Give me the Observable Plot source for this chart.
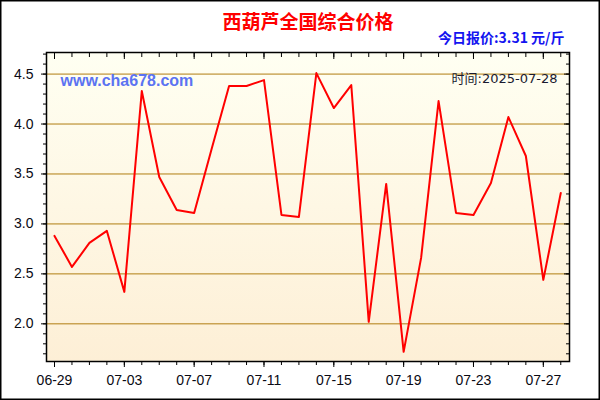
<!DOCTYPE html>
<html>
<head>
<meta charset="utf-8">
<script src="https://cdn.jsdelivr.net/npm/d3@7"></script>
<script src="https://cdn.jsdelivr.net/npm/@observablehq/plot@0.6"></script>
<style>
  html, body { margin: 0; padding: 0; background: white; }
</style>
</head>
<body>
<div id="chart"></div>
<script>
const title = "西葫芦全国综合价格";
const subtitle = "今日报价:3.31 元/斤";
const watermark = "www.cha678.com";
const timeLabel = "时间:2025-07-28";

const dates = [
  "2025-06-29","2025-06-30","2025-07-01","2025-07-02","2025-07-03","2025-07-04",
  "2025-07-05","2025-07-06","2025-07-07","2025-07-08","2025-07-09","2025-07-10",
  "2025-07-11","2025-07-12","2025-07-13","2025-07-14","2025-07-15","2025-07-16",
  "2025-07-17","2025-07-18","2025-07-19","2025-07-20","2025-07-21","2025-07-22",
  "2025-07-23","2025-07-24","2025-07-25","2025-07-26","2025-07-27","2025-07-28"
];
const prices = [
  2.88, 2.57, 2.81, 2.93, 2.32, 4.33,
  3.47, 3.14, 3.11, 3.75, 4.38, 4.38,
  4.44, 3.09, 3.07, 4.51, 4.16, 4.39,
  2.02, 3.40, 1.72, 2.66, 4.23, 3.11,
  3.09, 3.41, 4.07, 3.68, 2.44, 3.31
];
const majorXTicks = ["2025-06-29","2025-07-03","2025-07-07","2025-07-11","2025-07-15","2025-07-19","2025-07-23","2025-07-27"];
const majorYTicks = [2.0, 2.5, 3.0, 3.5, 4.0, 4.5];
const minorYTicks = [1.7,1.8,1.9,2.0,2.1,2.2,2.3,2.4,2.5,2.6,2.7,2.8,2.9,3.0,3.1,3.2,3.3,3.4,3.5,3.6,3.7,3.8,3.9,4.0,4.1,4.2,4.3,4.4,4.5,4.6,4.7];

const data = dates.map((d, i) => ({date: new Date(d + "T00:00:00Z"), price: prices[i]}));
const dayTicks = dates.map(d => new Date(d + "T00:00:00Z"));
const majorX = majorXTicks.map(d => new Date(d + "T00:00:00Z"));
const fmtX = d3.utcFormat("%m-%d");
const blank = () => "";

const chart = Plot.plot({
  width: 600,
  height: 400,
  marginLeft: 46,
  marginRight: 31,
  marginTop: 52,
  marginBottom: 39,
  style: {fontFamily: "'Liberation Sans', Arial, sans-serif", fontSize: "14px", background: "white", color: "#111"},
  x: {type: "utc", domain: [new Date("2025-06-28T13:00:00Z"), new Date("2025-07-28T12:00:00Z")], label: null},
  y: {domain: [1.623, 4.716], label: null},
  marks: [
    Plot.frame({fill: "url(#bggrad)", stroke: "none"}),
    Plot.ruleY(majorYTicks, {stroke: "#b07d10", strokeWidth: 1}),
    // bottom axis
    Plot.axisX({anchor: "bottom", ticks: dayTicks, tickSize: 4, tickFormat: blank, stroke: "#000", label: null}),
    Plot.axisX({anchor: "bottom", ticks: majorX, tickSize: 6, tickPadding: 8, tickFormat: fmtX, fontSize: 14, stroke: "#000", fill: "#0a0a14", label: null}),
    // top axis (inward)
    Plot.axisX({anchor: "top", ticks: dayTicks, tickSize: -4, tickFormat: blank, stroke: "#000", label: null}),
    Plot.axisX({anchor: "top", ticks: majorX, tickSize: -6, tickFormat: blank, stroke: "#000", label: null}),
    // left axis
    Plot.axisY({anchor: "left", ticks: minorYTicks, tickSize: 3, tickFormat: blank, stroke: "#000", label: null}),
    Plot.axisY({anchor: "left", ticks: majorYTicks, tickSize: 5, tickPadding: 8, tickFormat: d3.format(".1f"), fontSize: 14, stroke: "#000", fill: "#0a0a14", label: null}),
    // right axis (inward)
    Plot.axisY({anchor: "right", ticks: minorYTicks, tickSize: -4, tickFormat: blank, stroke: "#000", label: null}),
    Plot.axisY({anchor: "right", ticks: majorYTicks, tickSize: -6, tickFormat: blank, stroke: "#000", label: null}),
    Plot.line(data, {x: "date", y: "price", stroke: "#ff0000", strokeWidth: 2}),
    Plot.frame({stroke: "#000", strokeWidth: 1.5}),
    // labels
    Plot.text([watermark], {frameAnchor: "top-left", dx: 14, dy: 28, text: d => d, textAnchor: "start", lineAnchor: "middle",
      fill: "#5b73f2", fontWeight: "bold", fontSize: 16, fontFamily: "'Liberation Sans', Arial, sans-serif"}),
    Plot.text([timeLabel], {frameAnchor: "top-right", dx: -12, dy: 26, text: d => d, textAnchor: "end", lineAnchor: "middle",
      fill: "#1a1a30", fontSize: 13, fontFamily: "'DejaVu Sans', 'Noto Sans CJK SC', sans-serif"}),
    Plot.text([title], {frameAnchor: "top", dy: -30, text: d => d, lineAnchor: "middle",
      fill: "#ff0000", fontWeight: "bold", fontSize: 19, fontFamily: "'Noto Sans CJK SC', sans-serif"}),
    Plot.text([subtitle], {frameAnchor: "top-right", dx: -5, dy: -14, text: d => d, textAnchor: "end", lineAnchor: "middle",
      fill: "#1414f0", fontWeight: "bold", fontSize: 14, fontFamily: "'Noto Sans CJK SC', 'Liberation Sans', sans-serif"})
  ]
});

document.getElementById("chart").appendChild(chart);

// gradient definition + outer border + label backgrounds
const svg = d3.select(chart);
const defs = svg.insert("defs", ":first-child");
const grad = defs.append("linearGradient").attr("id", "bggrad").attr("x1", 0).attr("y1", 0).attr("x2", 0).attr("y2", 1);
grad.append("stop").attr("offset", "0%").attr("stop-color", "#fffff2");
grad.append("stop").attr("offset", "100%").attr("stop-color", "#fdefd6");
svg.append("rect").attr("x", 0.75).attr("y", 0.75).attr("width", 598.5).attr("height", 398.5)
  .attr("fill", "none").attr("stroke", "#000").attr("stroke-width", 1.5);

svg.selectAll("text").each(function() {
  const t = this.textContent;
  if (t === watermark || t === timeLabel) {
    const bb = this.getBBox();
    const padX = t === watermark ? 3 : 1;
    d3.select(this.parentNode).insert("rect", () => this)
      .attr("x", bb.x - padX).attr("y", bb.y)
      .attr("width", bb.width + 2 * padX).attr("height", bb.height)
      .attr("fill", "white").attr("opacity", 0.9);
  }
});
</script>
</body>
</html>
